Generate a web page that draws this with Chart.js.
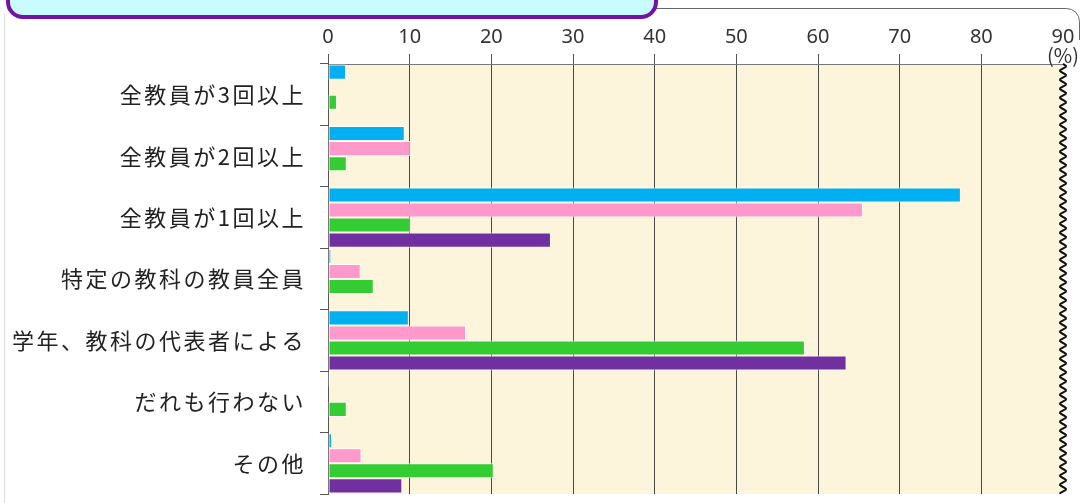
<!DOCTYPE html>
<html>
<head>
<meta charset="utf-8">
<script src="https://cdn.jsdelivr.net/npm/chart.js@4"></script>
<style>
  html, body { margin: 0; padding: 0; background: #fff; }
  #wrap { width: 1081px; height: 503px; position: relative; }
</style>
</head>
<body>
<div id="wrap"><canvas id="chart" width="1081" height="503"></canvas></div>
<script>
// data (%)
const categories = ['全教員が3回以上', '全教員が2回以上', '全教員が1回以上', '特定の教科の教員全員', '学年、教科の代表者による', 'だれも行わない', 'その他'];
const seriesNames = ['系列1', '系列2', '系列3', '系列4'];
const blueValues = [2.2, 9.4, 77.5, 0.4, 9.9, 0.3, 0.5];
const pinkValues = [0, 10.1, 65.5, 4.0, 16.9, 0, 4.1];
const greenValues = [1.1, 2.3, 10.1, 5.6, 58.4, 2.3, 20.3];
const purpleValues = [0, 0, 27.3, 0, 63.5, 0, 9.1];
const xTickValues = [0, 10, 20, 30, 40, 50, 60, 70, 80, 90];
const unitLabel = '(%)';

const colors = ['#00b0f0', '#ff99cc', '#33cc33', '#7030a0'];

// frame, header box, plot background, wavy break
const decorations = {
    id: 'decorations',
    beforeDraw(chart) {
        const ctx = chart.ctx;
        const area = chart.chartArea;
        ctx.save();

        // outer frame
        ctx.strokeStyle = '#dcdcdc';
        ctx.lineWidth = 1;
        ctx.beginPath();
        ctx.moveTo(4.5, 14);
        ctx.lineTo(4.5, 503);
        ctx.stroke();
        ctx.strokeStyle = '#666';
        ctx.beginPath();
        ctx.moveTo(650, 8.5);
        ctx.lineTo(1066, 8.5);
        ctx.arcTo(1079.5, 8.5, 1079.5, 22, 13);
        ctx.lineTo(1079.5, 40);
        ctx.stroke();

        // cyan header box
        ctx.fillStyle = '#c9fcfe';
        ctx.strokeStyle = '#7412a8';
        ctx.lineWidth = 4;
        ctx.beginPath();
        ctx.roundRect(8, -30, 648, 47, 15);
        ctx.fill();
        ctx.stroke();

        // plot background
        ctx.fillStyle = '#fcf5dc';
        ctx.fillRect(area.left, area.top, area.right - area.left, area.bottom - area.top);
        ctx.restore();
    },
    afterDraw(chart) {
        const ctx = chart.ctx;
        const area = chart.chartArea;
        ctx.save();

        ctx.strokeStyle = '#111';
        ctx.lineWidth = 2;
        ctx.beginPath();
        for (let y = area.top; y <= area.bottom; y += 1) {
            const x = area.right + 3 * Math.sin((y - area.top) / 9 * Math.PI * 2);
            if (y === area.top) ctx.moveTo(x, y); else ctx.lineTo(x, y);
        }
        ctx.stroke();

        ctx.fillStyle = '#333';
        ctx.font = '20px "Noto Sans CJK JP"';
        ctx.textAlign = 'center';
        ctx.textBaseline = 'middle';
        ctx.fillText(unitLabel, area.right, 55);
        ctx.restore();
    }
};

const datasets = [blueValues, pinkValues, greenValues, purpleValues].map((values, i) => ({
    label: seriesNames[i],
    data: values,
    backgroundColor: colors[i],
    borderColor: 'rgba(255,255,255,0.85)',
    borderWidth: 1,
    borderSkipped: false,
    categoryPercentage: 0.98,
    barPercentage: 1.0
}));

new Chart(document.getElementById('chart'), {
    type: 'bar',
    data: { labels: categories, datasets },
    plugins: [decorations],
    options: {
        responsive: false,
        animation: false,
        indexAxis: 'y',
        layout: { padding: { left: 0, right: 18, top: 0, bottom: 9 } },
        plugins: {
            legend: { display: false },
            tooltip: { enabled: false }
        },
        scales: {
            x: {
                position: 'top',
                min: 0,
                max: 90,
                afterBuildTicks: scale => { scale.ticks = xTickValues.map(v => ({ value: v })); },
                afterFit: scale => { scale.height = 64; },
                border: { display: true, color: '#777', width: 1 },
                grid: {
                    color: c => (c.tick && c.tick.value === 90) ? 'rgba(0,0,0,0)' : '#4a4a4a',
                    tickColor: c => (c.tick && c.tick.value === 90) ? 'rgba(0,0,0,0)' : '#555',
                    tickLength: 10,
                    lineWidth: 1
                },
                ticks: {
                    color: '#333',
                    padding: 5,
                    font: { family: '"Noto Sans", sans-serif', size: 20 },
                    maxRotation: 0
                }
            },
            y: {
                afterFit: scale => {
                    scale.width = 328;
                    scale.paddingTop = 0;
                    scale.paddingBottom = 0;
                    // category labels in the picture are spaced wider
                    if (!scale.spacedLabels) {
                        const drawLabels = scale.drawLabels;
                        scale.drawLabels = function (area) {
                            this.ctx.save();
                            this.ctx.letterSpacing = '2.5px';
                            drawLabels.call(this, area);
                            this.ctx.restore();
                        };
                        scale.spacedLabels = true;
                    }
                },
                border: { display: true, color: '#555', width: 1 },
                grid: {
                    offset: true,
                    drawOnChartArea: false,
                    tickLength: 8,
                    tickColor: '#555'
                },
                ticks: {
                    color: '#222',
                    padding: 14,
                    font: { family: '"Noto Sans CJK JP", sans-serif', size: 22 }
                }
            }
        }
    }
});
</script>
</body>
</html>
